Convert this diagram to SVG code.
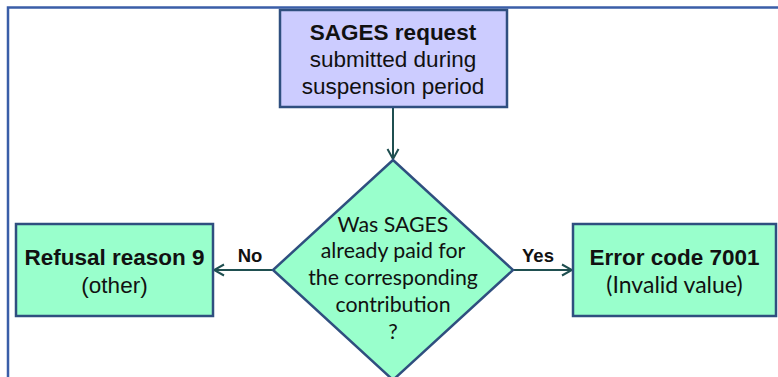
<svg xmlns="http://www.w3.org/2000/svg" width="778" height="377" viewBox="0 0 778 377">
<defs>
<style>
.frame{fill:none;stroke:#3a5ea8;stroke-width:2.5}
.box{stroke:#2f4f7f;stroke-width:2.5}
.blue{fill:#ccccff}
.green{fill:#99ffcc}
.conn{stroke:#1f4f50;stroke-width:2;fill:none}
.a{font-family:"Liberation Sans",Arial,sans-serif;font-size:22.5px;fill:#111;text-anchor:middle}
.b{font-weight:bold}
.c{font-family:Lato,"Open Sans",sans-serif;font-size:21.3px;fill:#111;text-anchor:middle}
.d{font-family:Lato,"Open Sans",sans-serif;font-size:23px;fill:#111;text-anchor:middle}
.lbl{font-family:"Liberation Sans",Arial,sans-serif;font-size:18.5px;font-weight:bold;fill:#111;text-anchor:middle}
</style>
<marker id="arr" viewBox="0 0 14 14" refX="13" refY="7" markerWidth="14" markerHeight="14" markerUnits="userSpaceOnUse" orient="auto">
<path d="M3,1.5 L13,7 L3,12.5" fill="none" stroke="#1f4f50" stroke-width="2"/>
</marker>
</defs>
<rect width="778" height="377" fill="#ffffff"/>
<path class="frame" d="M8,380 L8,7.5 L790,7.5"/>
<g id="connectors">
<line class="conn" x1="393" y1="108" x2="393" y2="159" marker-end="url(#arr)"/>
<line class="conn" x1="273" y1="270" x2="214" y2="270" marker-end="url(#arr)"/>
<line class="conn" x1="513" y1="270" x2="572" y2="270" marker-end="url(#arr)"/>
<text class="lbl" x="250" y="262">No</text>
<text class="lbl" x="538" y="262">Yes</text>
</g>
<g id="start">
<rect class="box blue" x="280" y="10" width="227" height="97"/>
<text class="a b" x="393" y="40">SAGES request</text>
<text class="a" x="393" y="67">submitted during</text>
<text class="a" x="393" y="94">suspension period</text>
</g>
<g id="decision">
<polygon class="box green" points="393,160 513,270 393,380 273,270"/>
<text class="c" x="393" y="232">Was SAGES</text>
<text class="c" x="393" y="258">already paid for</text>
<text class="c" x="393" y="285">the corresponding</text>
<text class="c" x="393" y="312">contribution</text>
<text class="c" x="393" y="339">?</text>
</g>
<g id="refusal">
<rect class="box green" x="16" y="224" width="197" height="92"/>
<text class="a b" x="114.5" y="265">Refusal reason 9</text>
<text class="a" x="114.5" y="293">(other)</text>
</g>
<g id="error">
<rect class="box green" x="573" y="224" width="203" height="92"/>
<text class="a b" x="674.5" y="265">Error code 7001</text>
<text class="d" x="674.5" y="293">(Invalid value)</text>
</g>
</svg>
